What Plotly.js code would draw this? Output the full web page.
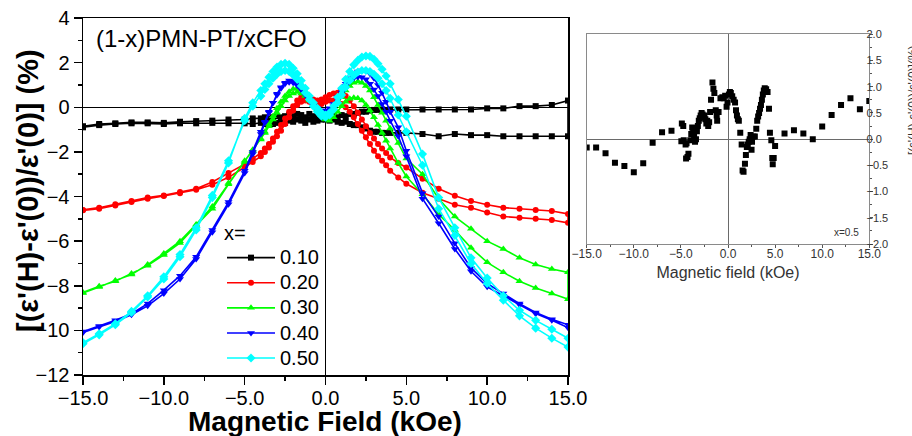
<!DOCTYPE html>
<html>
<head>
<meta charset="utf-8">
<script src="https://cdn.plot.ly/plotly-3.0.1.min.js"></script>
<style>
  html, body { margin: 0; padding: 0; background: #fff; }
  #chart { width: 912px; height: 436px; }
</style>
</head>
<body>
<div id="chart"></div>
<script>
// Magnetic field sweep (kOe): coarse at high field, fine around the coercive region
const FIELD = [-15,-14,-13,-12,-11,-10,-9,-8,-7,-6,-5,
  -4.5,
  -4,-3.75,-3.5,-3.25,-3,-2.75,-2.5,-2.25,-2,-1.75,-1.5,-1.25,-1,-0.75,-0.5,-0.25,0,
  0.25,0.5,0.75,1,1.25,1.5,1.75,2,2.25,2.5,2.75,3,3.25,3.5,3.75,4,
  4.5,
  5,6,7,8,9,10,11,12,13,14,15];

// Composition labels (x in (1-x)PMN-PT/xCFO)
const COMPOSITIONS = ['0.10', '0.20', '0.30', '0.40', '0.50'];

// Magnetodielectric response (%) for the two sweep branches of each composition
const MD_010_A = [-0.85,-0.75,-0.72,-0.68,-0.68,-0.70,-0.65,-0.62,-0.60,-0.55,-0.55,
  -0.50,
  -0.50,-0.45,-0.50,-0.45,-0.40,-0.45,-0.40,-0.35,-0.40,-0.30,-0.35,-0.45,-0.30,-0.40,-0.50,-0.45,-0.55,
  -0.60,-0.55,-0.65,-0.70,-0.65,-0.75,-0.80,-0.80,-0.90,-0.95,-1.05,-1.10,-1.10,-1.15,-1.15,-1.15,
  -1.15,
  -1.15,-1.20,-1.30,-1.20,-1.25,-1.25,-1.30,-1.30,-1.30,-1.30,-1.30];
const MD_010_B = [-0.90,-0.80,-0.75,-0.72,-0.72,-0.75,-0.72,-0.72,-0.70,-0.72,-0.72,
  -0.75,
  -0.70,-0.75,-0.70,-0.75,-0.70,-0.65,-0.70,-0.60,-0.65,-0.55,-0.60,-0.70,-0.55,-0.65,-0.60,-0.55,-0.45,
  -0.50,-0.40,-0.45,-0.35,-0.40,-0.30,-0.30,-0.25,-0.20,-0.20,-0.15,-0.12,-0.12,-0.10,-0.12,-0.10,
  -0.10,
  -0.10,-0.10,-0.10,-0.10,-0.10,-0.05,-0.05,0.05,0.05,0.10,0.30];

const MD_020_A = [-4.60,-4.50,-4.35,-4.20,-4.05,-3.95,-3.80,-3.65,-3.35,-2.95,-2.55,
  -2.30,
  -2.05,-1.85,-1.65,-1.40,-1.10,-0.80,-0.50,-0.20,0.05,0.30,0.45,0.50,0.45,0.35,0.30,0.35,0.45,
  0.55,0.62,0.65,0.62,0.50,0.30,0.05,-0.25,-0.55,-0.85,-1.15,-1.40,-1.65,-1.85,-2.05,-2.25,
  -2.50,
  -2.70,-3.20,-3.65,-3.97,-4.20,-4.37,-4.50,-4.55,-4.60,-4.65,-4.78];
const MD_020_B = [-4.62,-4.55,-4.40,-4.25,-4.10,-3.98,-3.85,-3.70,-3.47,-3.14,-2.69,
  -2.45,
  -2.20,-2.00,-1.80,-1.55,-1.30,-1.05,-0.75,-0.45,-0.15,0.10,0.25,0.30,0.25,0.15,0.10,0.15,0.25,
  0.30,0.30,0.25,0.15,0.00,-0.20,-0.45,-0.75,-1.05,-1.35,-1.65,-1.95,-2.20,-2.40,-2.60,-2.85,
  -3.15,
  -3.43,-3.83,-4.10,-4.37,-4.50,-4.72,-4.90,-4.95,-5.00,-5.05,-5.18];

const MD_030_A = [-8.30,-8.02,-7.80,-7.45,-7.10,-6.62,-6.08,-5.30,-4.55,-3.45,-2.45,
  -1.95,
  -1.45,-1.15,-0.85,-0.55,-0.25,0.05,0.30,0.50,0.62,0.68,0.62,0.50,0.30,0.10,-0.10,-0.30,-0.40,
  -0.30,-0.10,0.15,0.45,0.75,0.95,1.10,1.15,1.10,0.95,0.75,0.45,0.10,-0.25,-0.60,-0.95,
  -1.60,
  -2.30,-3.00,-4.10,-4.90,-5.45,-6.00,-6.35,-6.75,-7.05,-7.25,-7.40];
const MD_030_B = [-8.32,-8.06,-7.76,-7.50,-7.05,-6.55,-6.00,-5.25,-4.45,-3.40,-2.40,
  -1.90,
  -1.40,-1.10,-0.75,-0.40,-0.05,0.25,0.50,0.70,0.82,0.85,0.78,0.60,0.38,0.15,-0.10,-0.35,-0.55,
  -0.60,-0.45,-0.20,0.05,0.25,0.38,0.43,0.40,0.30,0.10,-0.15,-0.45,-0.80,-1.15,-1.50,-1.85,
  -2.50,
  -3.10,-3.90,-4.80,-5.50,-6.30,-6.95,-7.40,-7.80,-8.10,-8.35,-8.60];

const MD_040_A = [-10.10,-9.85,-9.60,-9.30,-8.90,-8.35,-7.70,-6.80,-5.60,-4.35,-2.95,
  -2.10,
  -1.20,-0.70,-0.25,0.20,0.60,0.90,1.10,1.20,1.18,1.05,0.85,0.60,0.35,0.10,-0.05,-0.15,-0.15,
  -0.05,0.15,0.45,0.75,1.05,1.30,1.50,1.60,1.65,1.62,1.50,1.30,1.00,0.65,0.25,-0.20,
  -0.90,
  -1.95,-3.85,-4.90,-6.10,-7.20,-7.90,-8.35,-8.80,-9.20,-9.50,-9.75];
const MD_040_B = [-10.05,-9.80,-9.55,-9.25,-8.80,-8.20,-7.55,-6.70,-5.50,-4.25,-2.85,
  -2.00,
  -1.10,-0.65,-0.20,0.20,0.55,0.85,1.05,1.12,1.10,0.98,0.78,0.55,0.30,0.05,-0.15,-0.25,-0.25,
  -0.15,0.05,0.35,0.65,0.95,1.15,1.30,1.36,1.35,1.25,1.05,0.80,0.50,0.15,-0.20,-0.60,
  -1.30,
  -2.20,-4.10,-5.20,-6.35,-7.35,-8.05,-8.45,-8.85,-9.25,-9.55,-9.88];

const MD_050_A = [-10.60,-10.20,-9.75,-9.20,-8.50,-7.70,-6.70,-5.50,-4.05,-2.50,-0.50,
  0.20,
  0.75,1.05,1.35,1.60,1.80,1.92,1.97,1.92,1.75,1.50,1.20,0.85,0.50,0.20,-0.05,-0.25,-0.35,
  -0.25,0.05,0.45,0.85,1.25,1.60,1.90,2.10,2.25,2.30,2.28,2.15,1.95,1.70,1.40,1.05,
  0.35,
  -0.40,-2.10,-4.05,-5.40,-6.75,-7.65,-8.45,-9.10,-9.55,-9.95,-10.35];
const MD_050_B = [-10.55,-10.15,-9.70,-9.15,-8.45,-7.60,-6.60,-5.40,-3.95,-2.40,-0.60,
  0.05,
  0.50,0.80,1.05,1.30,1.48,1.60,1.65,1.60,1.45,1.25,0.95,0.65,0.35,0.05,-0.20,-0.40,-0.45,
  -0.35,-0.10,0.20,0.55,0.90,1.20,1.42,1.58,1.65,1.65,1.60,1.48,1.30,1.05,0.75,0.40,
  -0.35,
  -1.10,-2.60,-4.55,-5.75,-7.00,-7.90,-8.65,-9.35,-9.90,-10.35,-10.75];

// Inset: x = 0.5 sample, second measurement
const INSET_FIELD = [-15,-14,-13,-12,-11,-10,-9,-8,-7,-6,
  -4.9,-4.75,-4.95,-4.7,-4.5,-4.4,-4.45,-4.3,-4.2,-4.0,
  -3.9,-3.8,-3.7,-3.6,-3.5,-3.4,-3.3,-3.2,-3.1,-3.0,
  -2.9,-2.8,-2.7,-2.6,-2.5,-2.4,-2.3,-2.2,-2.1,-2.0,
  -1.9,-1.8,-1.65,-1.55,-1.45,-1.3,-1.2,-1.15,-1.0,-0.8,
  -0.6,-0.45,-0.3,-0.15,-0.05,0.1,0.2,0.3,0.45,0.6,
  0.75,0.85,0.95,1.05,1.15,1.3,1.45,1.55,1.65,1.8,
  1.9,2.0,2.1,2.2,2.3,2.4,2.5,2.55,2.7,2.85,
  3.0,3.1,3.2,3.3,3.4,3.5,3.6,3.7,3.8,3.9,
  4.05,4.2,4.35,4.45,4.6,4.7,4.75,4.85,5.0,
  6,7,8,9,10,11,12,13,14,15];
const INSET_MD = [-0.16,-0.16,-0.27,-0.45,-0.51,-0.63,-0.46,-0.07,0.13,0.16,
  0.30,0.25,-0.04,-0.02,-0.10,-0.08,-0.37,-0.34,-0.28,-0.02,
  0.10,0.22,0.15,0.05,-0.05,0.00,0.15,0.25,0.35,0.40,
  0.45,0.50,0.47,0.42,0.45,0.38,0.30,0.35,0.25,0.32,
  0.52,0.75,1.08,0.96,0.88,0.55,0.45,0.35,0.52,0.78,
  0.80,0.78,0.83,0.62,0.70,0.85,0.90,0.88,0.82,0.75,
  0.70,0.55,0.45,0.38,0.35,0.12,-0.10,-0.60,-0.62,-0.47,
  -0.30,-0.15,-0.10,-0.05,0.00,0.08,-0.20,-0.05,0.05,0.05,
  0.20,0.35,0.43,0.50,0.58,0.65,0.75,0.85,0.93,0.97,
  0.95,0.90,0.58,0.12,-0.02,-0.36,-0.48,-0.36,-0.13,
  0.11,0.17,0.11,0.00,0.24,0.46,0.65,0.78,0.57,0.73];

const BRANCHES = [
  [MD_010_A, MD_010_B],
  [MD_020_A, MD_020_B],
  [MD_030_A, MD_030_B],
  [MD_040_A, MD_040_B],
  [MD_050_A, MD_050_B]
];
const COLORS = ['#000000', '#ff0000', '#00ff00', '#0000ff', '#00ffff'];
const SYMBOLS = ['square', 'circle', 'triangle-up', 'triangle-down', 'diamond'];
const MSIZE = [6, 6, 7, 7, 7];

const FONT = 'Liberation Sans, Arial, Helvetica, sans-serif';

// each loop: up-sweep branch followed by the down-sweep branch
const fieldLoop = FIELD.concat(FIELD.slice().reverse());
const traces = BRANCHES.map((br, i) => ({
  type: 'scatter',
  mode: 'lines+markers',
  // legend rows are spaced by the legend font; the label itself is drawn larger
  name: '<span style="font-size:20px">' + COMPOSITIONS[i] + '</span>',
  x: fieldLoop,
  y: br[0].concat(br[1].slice().reverse()),
  xaxis: 'x', yaxis: 'y',
  line: { color: COLORS[i], width: 1.6 },
  marker: { symbol: SYMBOLS[i], size: MSIZE[i], color: COLORS[i] }
}));

traces.push({
  type: 'scatter',
  mode: 'markers',
  name: 'x=0.5',
  showlegend: false,
  x: INSET_FIELD,
  y: INSET_MD,
  xaxis: 'x2', yaxis: 'y2',
  marker: { symbol: 'square', size: 6, color: '#000000' }
});

const W = 912, H = 436;
const px = v => v / W;
const py = v => 1 - v / H;

const layout = {
  width: W, height: H,
  margin: { l: 0, r: 0, t: 0, b: 0 },
  paper_bgcolor: '#ffffff',
  plot_bgcolor: '#ffffff',
  font: { family: FONT, color: '#000000' },
  showlegend: true,
  legend: {
    x: px(222), y: py(218), xanchor: 'left', yanchor: 'top',
    bgcolor: 'rgba(0,0,0,0)',
    font: { family: FONT, size: 17, color: '#000' },
    title: { text: '<span style="font-size:20px">x=</span>', font: { family: FONT, size: 17, color: '#000' } },
    itemwidth: 48,
    tracegroupgap: 0
  },
  xaxis: {
    domain: [px(83), px(568)],
    anchor: 'y',
    range: [-15, 15],
    tick0: -15, dtick: 5, tickformat: '.1f',
    ticks: 'outside', ticklen: 8, tickwidth: 1.5, tickcolor: '#000',
    ticklabelstandoff: -4,
    minor: { dtick: 2.5, ticks: 'outside', ticklen: 4, tickwidth: 1.5, tickcolor: '#000' },
    showline: true, linewidth: 1.5, linecolor: '#000', mirror: true,
    zeroline: true, zerolinecolor: '#000', zerolinewidth: 1.5,
    showgrid: false,
    tickfont: { family: FONT, size: 20, color: '#000' }
  },
  yaxis: {
    domain: [1 - 375 / H, 1 - 18 / H],
    anchor: 'x',
    range: [-12, 4],
    tick0: -12, dtick: 2,
    ticks: 'outside', ticklen: 8, tickwidth: 1.5, tickcolor: '#000',
    minor: { dtick: 1, ticks: 'outside', ticklen: 4, tickwidth: 1.5, tickcolor: '#000' },
    showline: true, linewidth: 1.5, linecolor: '#000', mirror: true,
    zeroline: true, zerolinecolor: '#000', zerolinewidth: 1.5,
    showgrid: false,
    tickfont: { family: FONT, size: 20, color: '#000' }
  },
  xaxis2: {
    domain: [px(586.7), px(869.3)],
    anchor: 'y2',
    range: [-15, 15],
    tick0: -15, dtick: 5, tickformat: '.1f',
    ticks: 'outside', ticklen: 3, tickwidth: 1, tickcolor: '#555',
    ticklabelstandoff: -4,
    minor: { dtick: 2.5, ticks: 'outside', ticklen: 2, tickcolor: '#555' },
    showline: true, linewidth: 1, linecolor: '#8a8a8a', mirror: true,
    zeroline: true, zerolinecolor: '#6a6a6a', zerolinewidth: 1,
    showgrid: false,
    tickfont: { family: FONT, size: 12, color: '#333' },
    title: { text: 'Magnetic field (kOe)', font: { family: FONT, size: 16, color: '#333' }, standoff: 6 }
  },
  yaxis2: {
    domain: [1 - 244 / H, 1 - 34.3 / H],
    anchor: 'x2',
    side: 'right',
    range: [-2, 2],
    tick0: -2, dtick: 0.5, tickformat: '.1f',
    ticks: 'outside', ticklen: 3, tickwidth: 1, tickcolor: '#555',
    ticklabelstandoff: -9,
    minor: { dtick: 0.25, ticks: 'outside', ticklen: 2, tickcolor: '#555' },
    showline: true, linewidth: 1, linecolor: '#8a8a8a', mirror: true,
    zeroline: true, zerolinecolor: '#6a6a6a', zerolinewidth: 1,
    showgrid: false,
    tickfont: { family: FONT, size: 11, color: '#333' }
  },
  annotations: [
    // main axis titles
    {
      xref: 'paper', yref: 'paper', x: px(325), y: py(421),
      xanchor: 'center', yanchor: 'middle', showarrow: false,
      text: '<b>Magnetic Field (kOe)</b>',
      font: { family: FONT, size: 28, color: '#000' }
    },
    {
      xref: 'paper', yref: 'paper', x: px(28), y: py(191),
      xanchor: 'center', yanchor: 'middle', showarrow: false,
      textangle: -90,
      text: "<b>[(ε'(H)-ε'(0))/ε'(0)] (%)</b>",
      font: { family: FONT, size: 29, color: '#000' }
    },
    {
      xref: 'paper', yref: 'paper', x: px(94), y: py(38),
      xanchor: 'left', yanchor: 'middle', showarrow: false,
      text: '(1-x)PMN-PT/xCFO',
      font: { family: FONT, size: 24, color: '#000' }
    },
    {
      xref: 'paper', yref: 'paper', x: px(846), y: py(232),
      xanchor: 'center', yanchor: 'middle', showarrow: false,
      text: 'x=0.5',
      font: { family: FONT, size: 10, color: '#333' }
    },
    {
      xref: 'paper', yref: 'paper', x: px(904), y: py(100),
      xanchor: 'left', yanchor: 'middle', showarrow: false,
      textangle: -90,
      text: "[(ε'(H)-ε'(0))/ε'(0)](%)",
      font: { family: FONT, size: 12, color: '#333' }
    }
  ]
};

Plotly.newPlot('chart', traces, layout, { displayModeBar: false, staticPlot: true });
</script>
</body>
</html>
